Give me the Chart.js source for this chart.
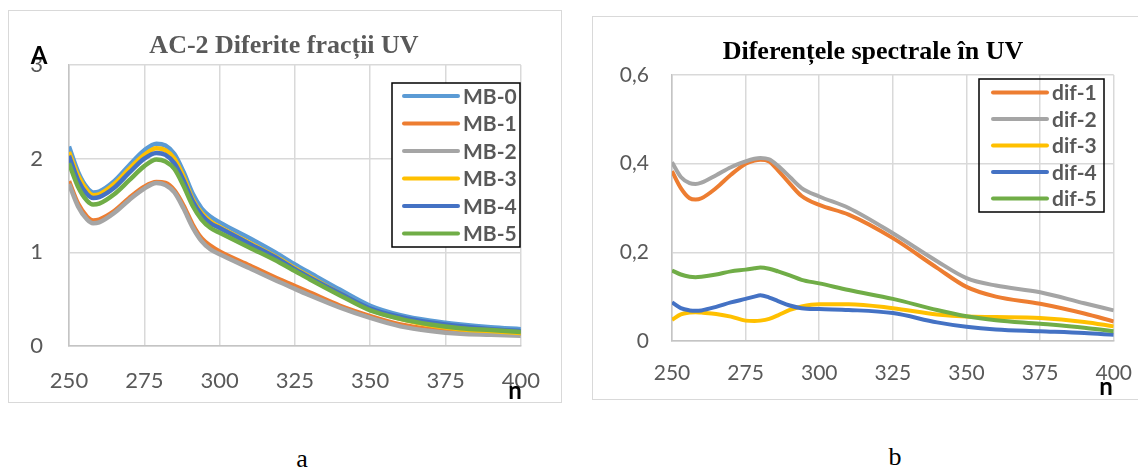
<!DOCTYPE html>
<html>
<head>
<meta charset="utf-8">
<script src="https://cdn.jsdelivr.net/npm/chart.js@4.4.1/dist/chart.umd.min.js"></script>
<style>
  html, body { margin: 0; padding: 0; background: #fff; width: 1138px; height: 468px; overflow: hidden; }
  .box { position: absolute; border: 1px solid #d9d9d9; box-sizing: border-box; }
  .box canvas { position: absolute; left: -1px; top: -1px; }
  .cap { position: absolute; font: 26px "Liberation Serif", serif; color: #000; transform: translate(-50%, -50%); }
</style>
</head>
<body>
<div class="box" id="boxA" style="left:8px;top:10px;width:554px;height:393px;"><canvas id="chartA" width="554" height="393"></canvas></div>
<div class="box" id="boxB" style="left:592px;top:16px;width:560px;height:384px;"><canvas id="chartB" width="560" height="384"></canvas></div>
<div class="cap" style="left:302px;top:459px;">a</div>
<div class="cap" style="left:895px;top:457px;">b</div>
<script>
// chart a: AC-2, different UV fractions
const nmA = [250, 253, 256, 258, 260, 265, 270, 275, 279, 282, 285, 288, 291, 294, 297, 300, 310, 320, 325, 330, 340, 350, 360, 370, 380, 390, 400];
const mb0 = [2.13, 1.86, 1.69, 1.64, 1.65, 1.76, 1.93, 2.09, 2.16, 2.14, 2.05, 1.86, 1.63, 1.47, 1.38, 1.32, 1.15, 0.97, 0.87, 0.78, 0.60, 0.43, 0.33, 0.27, 0.23, 0.20, 0.18];
const mb1 = [1.76, 1.52, 1.38, 1.34, 1.35, 1.44, 1.58, 1.70, 1.75, 1.74, 1.66, 1.50, 1.30, 1.15, 1.07, 1.01, 0.86, 0.71, 0.64, 0.57, 0.43, 0.32, 0.23, 0.18, 0.15, 0.14, 0.13];
const mb2 = [1.73, 1.49, 1.35, 1.31, 1.32, 1.42, 1.56, 1.68, 1.74, 1.72, 1.64, 1.47, 1.27, 1.12, 1.03, 0.98, 0.83, 0.68, 0.61, 0.54, 0.41, 0.30, 0.21, 0.16, 0.13, 0.12, 0.11];
const mb3 = [2.07, 1.82, 1.66, 1.61, 1.62, 1.73, 1.89, 2.04, 2.11, 2.09, 2.00, 1.81, 1.57, 1.42, 1.33, 1.27, 1.10, 0.93, 0.83, 0.74, 0.56, 0.39, 0.29, 0.22, 0.18, 0.16, 0.14];
const mb4 = [2.03, 1.77, 1.62, 1.58, 1.59, 1.69, 1.85, 2.00, 2.06, 2.04, 1.95, 1.77, 1.55, 1.40, 1.31, 1.26, 1.09, 0.92, 0.82, 0.73, 0.56, 0.40, 0.31, 0.25, 0.21, 0.18, 0.16];
const mb5 = [1.95, 1.70, 1.55, 1.51, 1.52, 1.62, 1.77, 1.92, 1.99, 1.97, 1.89, 1.71, 1.50, 1.35, 1.26, 1.21, 1.05, 0.89, 0.80, 0.71, 0.54, 0.38, 0.29, 0.23, 0.19, 0.17, 0.15];
const namesA = ["MB-0", "MB-1", "MB-2", "MB-3", "MB-4", "MB-5"];
const xTicks = [250, 275, 300, 325, 350, 375, 400];
const yTicksA = [0, 1, 2, 3];

// chart b: spectral differences
const nmB = [250, 253, 256, 258, 260, 265, 270, 275, 278, 280, 283, 286, 290, 294, 300, 310, 325, 340, 350, 360, 375, 390, 400];
const dif1 = [0.383, 0.345, 0.322, 0.319, 0.322, 0.345, 0.375, 0.400, 0.407, 0.409, 0.405, 0.385, 0.355, 0.327, 0.307, 0.285, 0.232, 0.165, 0.122, 0.100, 0.084, 0.062, 0.044];
const dif2 = [0.403, 0.370, 0.356, 0.354, 0.357, 0.374, 0.392, 0.405, 0.411, 0.413, 0.410, 0.395, 0.370, 0.345, 0.326, 0.300, 0.243, 0.180, 0.142, 0.125, 0.110, 0.085, 0.069];
const dif3 = [0.048, 0.060, 0.064, 0.065, 0.064, 0.061, 0.055, 0.046, 0.045, 0.046, 0.050, 0.058, 0.070, 0.078, 0.083, 0.083, 0.074, 0.060, 0.055, 0.054, 0.052, 0.043, 0.033];
const dif4 = [0.087, 0.074, 0.069, 0.068, 0.069, 0.077, 0.087, 0.095, 0.100, 0.103, 0.098, 0.090, 0.080, 0.074, 0.072, 0.070, 0.063, 0.042, 0.032, 0.026, 0.022, 0.018, 0.014];
const dif5 = [0.159, 0.150, 0.145, 0.144, 0.145, 0.150, 0.157, 0.161, 0.164, 0.166, 0.163, 0.157, 0.148, 0.138, 0.130, 0.115, 0.095, 0.070, 0.056, 0.047, 0.039, 0.030, 0.022];
const namesB = ["dif-1", "dif-2", "dif-3", "dif-4", "dif-5"];
const yTicksB = [0, 0.2, 0.4, 0.6];
const yLabelsB = ["0", "0,2", "0,4", "0,6"];

const GRAY = "#595959";
const colorsA = ["#5B9BD5", "#ED7D31", "#A5A5A5", "#FFC000", "#4472C4", "#70AD47"];
const colorsB = ["#ED7D31", "#A5A5A5", "#FFC000", "#4472C4", "#70AD47"];

// title, boxed legend and axis letters drawn on top of the chart
const overlay = {
  id: "overlay",
  afterDraw(chart, args, o) {
    const ctx = chart.ctx;
    ctx.save();
    ctx.textBaseline = "middle";
    ctx.textAlign = "center";
    ctx.fillStyle = o.titleColor;
    ctx.font = 'bold 26px "Liberation Serif"';
    ctx.fillText(o.title, o.titleX, o.titleY);

    const L = o.legend;
    if (L.fill) { ctx.fillStyle = "#fff"; ctx.fillRect(L.x, L.y, L.w, L.h); }
    ctx.strokeStyle = "#000";
    ctx.lineWidth = 1.5;
    ctx.strokeRect(L.x, L.y, L.w, L.h);
    ctx.font = 'bold 21px Lato';
    ctx.textAlign = "left";
    chart.data.datasets.forEach((ds, i) => {
      const y = L.row0 + i * L.step;
      ctx.strokeStyle = ds.borderColor;
      ctx.lineWidth = 4;
      ctx.lineCap = "round";
      ctx.beginPath();
      ctx.moveTo(L.lineX, y);
      ctx.lineTo(L.lineX + L.lineW, y);
      ctx.stroke();
      ctx.fillStyle = GRAY;
      ctx.fillText(ds.label, L.textX, y + 1);
    });

    ctx.fillStyle = "#000";
    ctx.textAlign = "center";
    ctx.font = 'bold 24px Lato';
    o.letters.forEach(([t, x, y]) => ctx.fillText(t, x, y));
    ctx.restore();
  }
};

function series(xs, ys) {
  return xs.map((x, i) => ({ x, y: ys[i] }));
}

function makeChart(id, cfg) {
  const datasets = cfg.values.map((vals, i) => ({
    label: cfg.names[i],
    data: series(cfg.xs, vals),
    borderColor: cfg.colors[i],
    borderWidth: cfg.lineWidth,
    pointRadius: 0,
    cubicInterpolationMode: "monotone",
    order: cfg.values.length - i
  }));
  const tickFont = { family: "Lato", size: cfg.tickSize };
  return new Chart(document.getElementById(id), {
    type: "line",
    data: { datasets },
    options: {
      responsive: false,
      animation: false,
      devicePixelRatio: 1,
      layout: { padding: cfg.padding },
      plugins: { legend: { display: false }, title: { display: false }, tooltip: { enabled: false }, overlay: cfg.overlay },
      scales: {
        x: {
          type: "linear", min: 250, max: 400,
          afterBuildTicks: (s) => { s.ticks = xTicks.map((v) => ({ value: v })); },
          afterFit: (s) => { s.height = cfg.xHeight; },
          ticks: { color: GRAY, font: tickFont, padding: cfg.xPad, maxRotation: 0 },
          grid: { color: "#d9d9d9", lineWidth: 1.5, drawTicks: false },
          border: { color: "#c4c4c4", width: 1.5 }
        },
        y: {
          min: cfg.yTicks[0], max: cfg.yTicks[cfg.yTicks.length - 1],
          afterBuildTicks: (s) => { s.ticks = cfg.yTicks.map((v) => ({ value: v })); },
          afterFit: (s) => { s.width = cfg.yWidth; },
          ticks: { color: GRAY, font: tickFont, padding: cfg.yPad, callback: (v, i) => cfg.yLabels[i] },
          grid: { color: "#d9d9d9", lineWidth: 1.5, drawTicks: false },
          border: { color: "#c4c4c4", width: 1.5 }
        }
      }
    },
    plugins: [overlay]
  });
}

makeChart("chartA", {
  xs: nmA, values: [mb0, mb1, mb2, mb3, mb4, mb5], names: namesA, colors: colorsA, lineWidth: 4.5,
  yTicks: yTicksA, yLabels: yTicksA.map(String), tickSize: 22,
  padding: { top: 55, right: 40, left: 0, bottom: 0 }, yWidth: 61, xHeight: 57, xPad: 22, yPad: 26,
  overlay: {
    title: "AC-2 Diferite fracții UV", titleColor: GRAY, titleX: 276, titleY: 36,
    legend: { x: 384, y: 73, w: 128, h: 164, fill: true, row0: 86, step: 27.5, lineX: 396, lineW: 54, textX: 455 },
    letters: [["A", 31, 46], ["n", 507, 381]]
  }
});

makeChart("chartB", {
  xs: nmB, values: [dif1, dif2, dif3, dif4, dif5], names: namesB, colors: colorsB, lineWidth: 4,
  yTicks: yTicksB, yLabels: yLabelsB, tickSize: 21,
  padding: { top: 59, right: 36, left: 0, bottom: 0 }, yWidth: 80, xHeight: 59, xPad: 20, yPad: 23,
  overlay: {
    title: "Diferențele spectrale în UV", titleColor: "#000", titleX: 281, titleY: 36,
    legend: { x: 387, y: 63, w: 125, h: 133, fill: false, row0: 76.5, step: 26.5, lineX: 401, lineW: 54, textX: 460 },
    letters: [["n", 514, 371]]
  }
});
</script>
</body>
</html>
